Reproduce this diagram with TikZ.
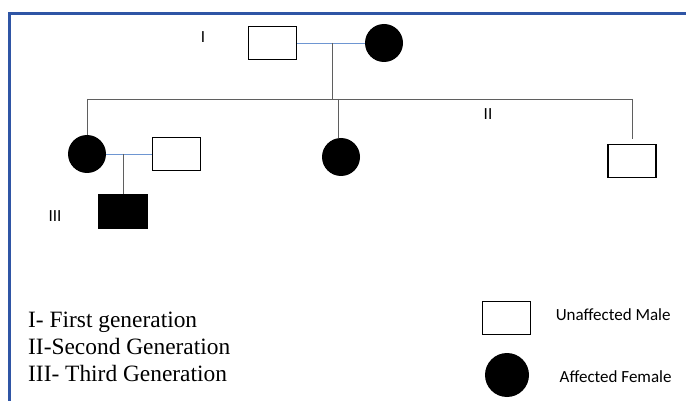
\documentclass[tikz,border=0pt]{standalone}
\usepackage{fontspec}
\setmainfont{Liberation Serif}
\setsansfont{Carlito}
\usetikzlibrary{positioning}
\definecolor{frameblue}{RGB}{47,85,165}
\definecolor{mateline}{RGB}{110,150,210}
\definecolor{kinline}{RGB}{95,95,95}
\tikzset{
	male/.style={draw, line width=1.5pt, minimum width=48pt, minimum height=33pt, inner sep=0pt},
	affmale/.style={male, fill=black},
	affemale/.style={circle, fill=black, minimum size=38pt, inner sep=0pt},
	gen/.style={font=\sffamily\fontsize{17}{17}\selectfont},
	keytext/.style={font=\fontsize{23.4}{27}\selectfont, anchor=base west, inner sep=0pt},
	mate/.style={mateline, line width=0.8pt},
	kin/.style={kinline, line width=0.8pt},
}
\begin{document}
\begin{tikzpicture}[x=1pt, y=-1pt]
		\useasboundingbox (0,0) rectangle (686,401);
		% frame
		\draw[frameblue, line width=3pt] (9.5,401) -- (9.5,13.5) -- (686,13.5);
		
		% Generation I
		\node[male] (gpa) at (272.5,43) {};
		\node[affemale] (gma) at (384,43) {};
		\draw[mate] (gpa) -- (gma);
		\coordinate (m1) at (332,43);
		\coordinate (s1) at (332,99);
		\draw[kin] (m1) -- (s1);
		
		% sibship line
		\coordinate (sl) at (87,99);
		\coordinate (sr) at (632,99);
		\coordinate (sm) at (338,99);
		\draw[kin] (sl) -- (sr);
		
		% Generation II
		\node[affemale] (mom) at (87,154) {};
		\node[male] (dad) at (176.5,154) {};
		\node[affemale] (aunt) at (341,157) {};
		\node[male] (uncle) at (632,161) {};
		\draw[kin] (sl) -- (mom.north);
		\draw[kin] (sm) -- (sm |- aunt.north);
		\draw[kin] (sr) -- ([yshift=5pt]uncle.north);
		\draw[mate] (mom) -- (dad);
		
		% Generation III
		\coordinate (m2) at (123,154);
		\node[affmale] (son) at (123,211.5) {};
		\draw[kin] (m2) -- (son.north);
		
		% generation numbers
		\node[gen] (g1) at (203,37) {I};
		\node[gen] (g2) at (488,114) {II};
		\node[gen] (g3) at (55,216) {III};
		
		% key
		\node[keytext] (key1) at (28,327) {I- First generation};
		\node[keytext] (key2) at (28,354) {II-Second Generation};
		\node[keytext] (key3) at (28,381) {III- Third Generation};
		\node[male] (keymale) at (506.5,318) {};
		\node[affemale, minimum size=44pt] (keyfemale) at (507,375) {};
		\node[gen, right=21pt of keymale, yshift=3pt] (keymaletext) {Unaffected Male};
		\node[gen, right=27pt of keyfemale, yshift=-2pt] (keyfemaletext) {Affected Female};
	\end{tikzpicture}
\end{document}
